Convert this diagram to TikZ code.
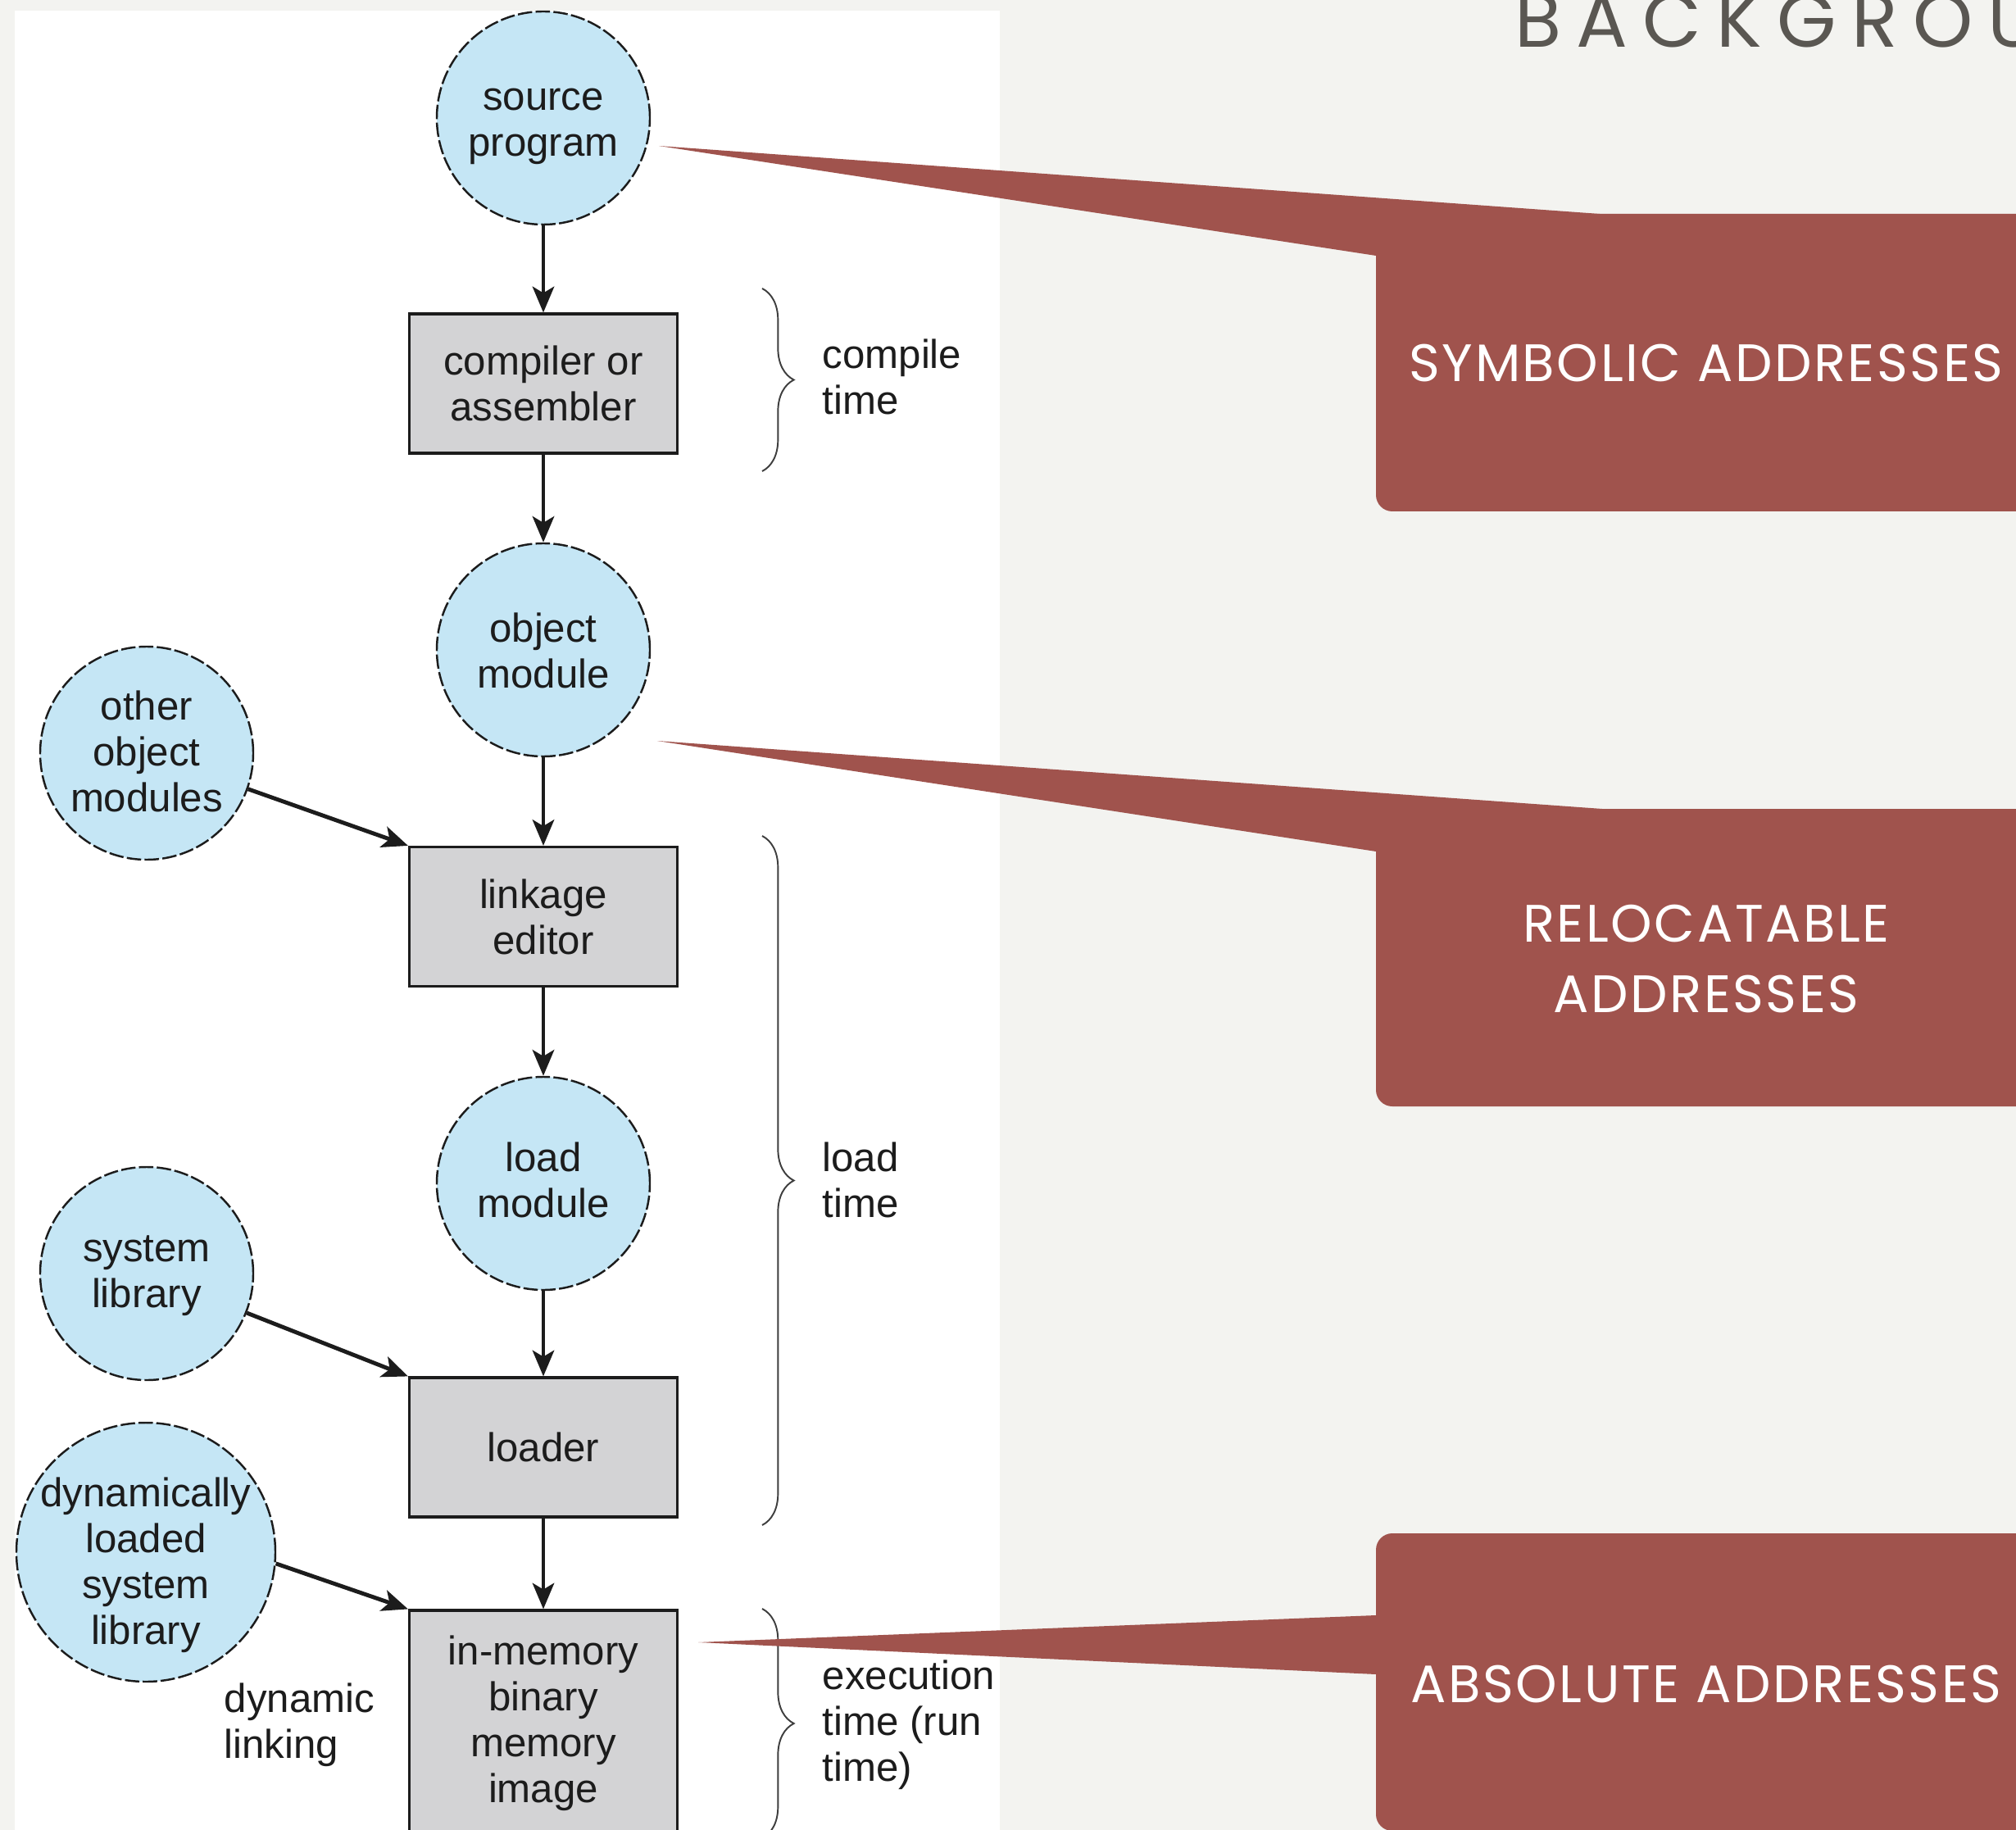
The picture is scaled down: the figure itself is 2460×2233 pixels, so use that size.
\documentclass[tikz,border=0pt]{standalone}
\usepackage{fontspec}
\setmainfont{Liberation Sans}
\newfontfamily\calloutfont[LetterSpace=4]{Poppins}
\newfontfamily\headfont[LetterSpace=19.5]{Poppins}
\usetikzlibrary{arrows.meta,decorations.pathreplacing}

\definecolor{paper}{RGB}{243,243,240}
\definecolor{nodeblue}{RGB}{197,230,245}
\definecolor{boxgray}{RGB}{211,211,213}
\definecolor{inkdark}{RGB}{28,28,28}
\definecolor{calloutred}{RGB}{160,83,77}
\definecolor{headgray}{RGB}{90,87,82}

\tikzset{
  diagfont/.style={font=\fontsize{14pt}{15.9pt}\selectfont},
  circ/.style={circle, draw=inkdark, line width=0.7pt, dash pattern=on 5pt off 1.2pt,
    fill=nodeblue, inner sep=0pt, minimum size=26mm},
  stage/.style={rectangle, draw=inkdark, line width=0.9pt, fill=boxgray,
    minimum width=32.7mm, minimum height=17mm, inner sep=0pt, align=center,
    diagfont, text=inkdark},
  lbl/.style={inner sep=0pt, align=center, diagfont, text=inkdark},
  side/.style={inner sep=0pt, align=left, anchor=west, diagfont, text=inkdark},
  flow/.style={draw=inkdark, line width=1.4pt, -{Stealth[length=9pt,width=7.5pt,inset=2.2pt]}},
  phase/.style={draw=inkdark!85, line width=0.55pt, decorate,
    decoration={brace, amplitude=11pt}},
  callout/.style={fill=calloutred},
  calltext/.style={text=white, inner sep=0pt, align=center,
    font=\calloutfont\fontsize{18.3pt}{24.2pt}\selectfont},
}

\begin{document}
\begin{tikzpicture}[x=0.1mm, y=-0.1mm]
\useasboundingbox (0,0) rectangle (2460,2233);
\clip (0,0) rectangle (2460,2233);
% paper and the white panel of the figure
\fill[paper] (0,0) rectangle (2460,2233);
\fill[white] (18,13) rectangle (1220,2240);

% heading
\node[anchor=base west, inner sep=0pt, text=headgray,
  font=\headfont\fontsize{26.5pt}{30pt}\selectfont] (head) at (1848,58) {BACKGROUND};

% files (circles)
\node[circ] (src) at (663,144) {};
\node[lbl] (srcT) at (663,154) {source\\program};
\node[circ] (obj) at (663,793) {};
\node[lbl] (objT) at (663,794) {object\\module};
\node[circ] (oth) at (179,919) {};
\node[lbl] (othT) at (179,917) {other\\object\\modules};
\node[circ] (lmod) at (663,1444) {};
\node[lbl] (lmodT) at (663,1440) {load\\module};
\node[circ] (slib) at (179,1554) {};
\node[lbl] (slibT) at (179,1557) {system\\library};
\node[circ, minimum size=31.6mm] (dlib) at (178,1894) {};
\node[lbl] (dlibT) at (178,1910) {dynamically\\loaded\\system\\library};

% tools (boxes)
\node[stage] (comp) at (663,468) {compiler or\\assembler};
\node[stage] (link) at (663,1118.5) {linkage\\editor};
\node[stage] (ldr) at (663,1766) {loader};
\node[stage, minimum height=27.6mm] (mem) at (663,2103) {in-memory\\binary\\memory\\image};

% flow of the program
\draw[flow] (src) -- (comp);
\draw[flow] (comp) -- (obj);
\draw[flow] (obj) -- (link);
\draw[flow] (link) -- (lmod);
\draw[flow] (lmod) -- (ldr);
\draw[flow] (ldr) -- (mem);
\draw[flow] (oth) -- (link.north west);
\draw[flow] (slib) -- (ldr.north west);
\draw[flow] (dlib.-5) -- (mem.north west);

% binding phases
\draw[phase] (930,352) -- (930,575);
\node[side] (cmpT) at (1003,460) {compile\\time};
\draw[phase] (930,1020) -- (930,1861);
\node[side] (ldT) at (1003,1440) {load\\time};
\draw[phase] (930,1963) -- (930,2243);
\node[side] (exT) at (1003,2105) {execution\\time (run\\time)};
\node[side] (dynT) at (273,2105) {dynamic\\linking};

% address callouts
\fill[callout] (804,178) -- (1952,261) -- (1952,340) -- (1679,340) -- (1679,312) -- cycle;
\fill[callout, rounded corners=2mm] (1679,261) rectangle (2485,624);
\node[calltext, anchor=base] (symT) at (2082,466) {SYMBOLIC ADDRESSES};

\fill[callout] (802,904) -- (1955,987) -- (1955,1060) -- (1679,1060) -- (1679,1039) -- cycle;
\fill[callout, rounded corners=2mm] (1679,987) rectangle (2485,1350);
\node[calltext] (relT) at (2082,1170) {RELOCATABLE\\ADDRESSES};

\fill[callout] (852,2004) -- (1679,1971) -- (1700,1971) -- (1700,2043) -- (1679,2043) -- cycle;
\fill[callout, rounded corners=2mm] (1679,1871) rectangle (2485,2234);
\node[calltext, anchor=base] (absT) at (2082,2077) {ABSOLUTE ADDRESSES};
\end{tikzpicture}
\end{document}
